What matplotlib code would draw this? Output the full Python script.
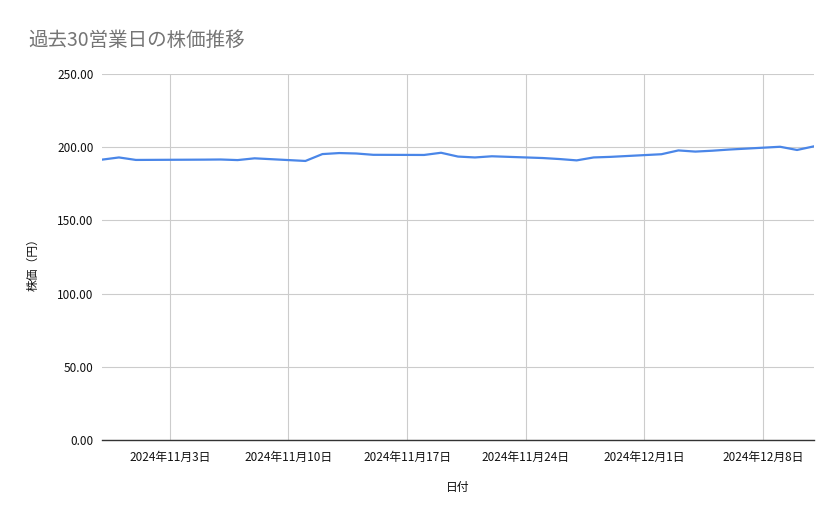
import matplotlib
matplotlib.use("Agg")
import matplotlib.pyplot as plt
import numpy as np

plt.rcParams['font.family'] = ['Noto Sans CJK JP', 'DejaVu Sans']

# business days (Nov 4 is a JP holiday)
dates = ["2024-10-30", "2024-10-31", "2024-11-01",
         "2024-11-05", "2024-11-06", "2024-11-07", "2024-11-08",
         "2024-11-11", "2024-11-12", "2024-11-13", "2024-11-14", "2024-11-15",
         "2024-11-18", "2024-11-19", "2024-11-20", "2024-11-21", "2024-11-22",
         "2024-11-25", "2024-11-26", "2024-11-27", "2024-11-28", "2024-11-29",
         "2024-12-02", "2024-12-03", "2024-12-04", "2024-12-05", "2024-12-06",
         "2024-12-09", "2024-12-10", "2024-12-11"]
prices = [191.5, 193.0, 191.3,
          191.5, 191.6, 191.2, 192.4,
          190.6, 195.3, 196.0, 195.7, 194.8,
          194.7, 196.2, 193.6, 193.0, 193.8,
          192.6, 191.9, 191.0, 193.0, 193.4,
          195.2, 197.8, 197.0, 197.6, 198.4,
          200.3, 198.1, 200.6]
tick_dates = ["2024-11-03", "2024-11-10", "2024-11-17", "2024-11-24", "2024-12-01", "2024-12-08"]
y_ticks = [0, 50, 100, 150, 200, 250]

x = np.array(dates, dtype="datetime64[D]")
xt = np.array(tick_dates, dtype="datetime64[D]")

fig = plt.figure(figsize=(8.39, 5.19), dpi=100)
ax = fig.add_axes([102 / 839, 1 - 440 / 519, 712 / 839, 366 / 519])

ax.plot(x, prices, color="#4a86e8", lw=1.6, zorder=3)

ax.set_xlim(x[0], x[-1])
ax.set_ylim(0, 250)
ax.set_yticks(y_ticks)
ax.set_yticklabels([f"{v:.2f}" for v in y_ticks])
ax.set_xticks(xt)
ax.set_xticklabels([f"{d.year}年{d.month}月{d.day}日" for d in xt.astype(object)])

ax.grid(True, color="#cccccc", lw=0.8, zorder=0)
for s in ["top", "right", "left"]:
    ax.spines[s].set_visible(False)
ax.spines["bottom"].set_color("#333333")
ax.spines["bottom"].set_linewidth(1.0)
ax.tick_params(length=0, labelsize=8.5, colors="#111111", pad=6)
ax.tick_params(axis="x", pad=8)

fig.text(28 / 839, 1 - 40 / 519, "過去30営業日の株価推移", fontsize=14,
         color="#757575", va="center", ha="left")
fig.text(33 / 839, 1 - 262 / 519, "株価（円）", fontsize=8.5, rotation=90,
         va="center", ha="center", color="#111111")
fig.text(458 / 839, 1 - 487 / 519, "日付", fontsize=8.5, va="center",
         ha="center", color="#111111")

fig.savefig("out.png", dpi=100)
